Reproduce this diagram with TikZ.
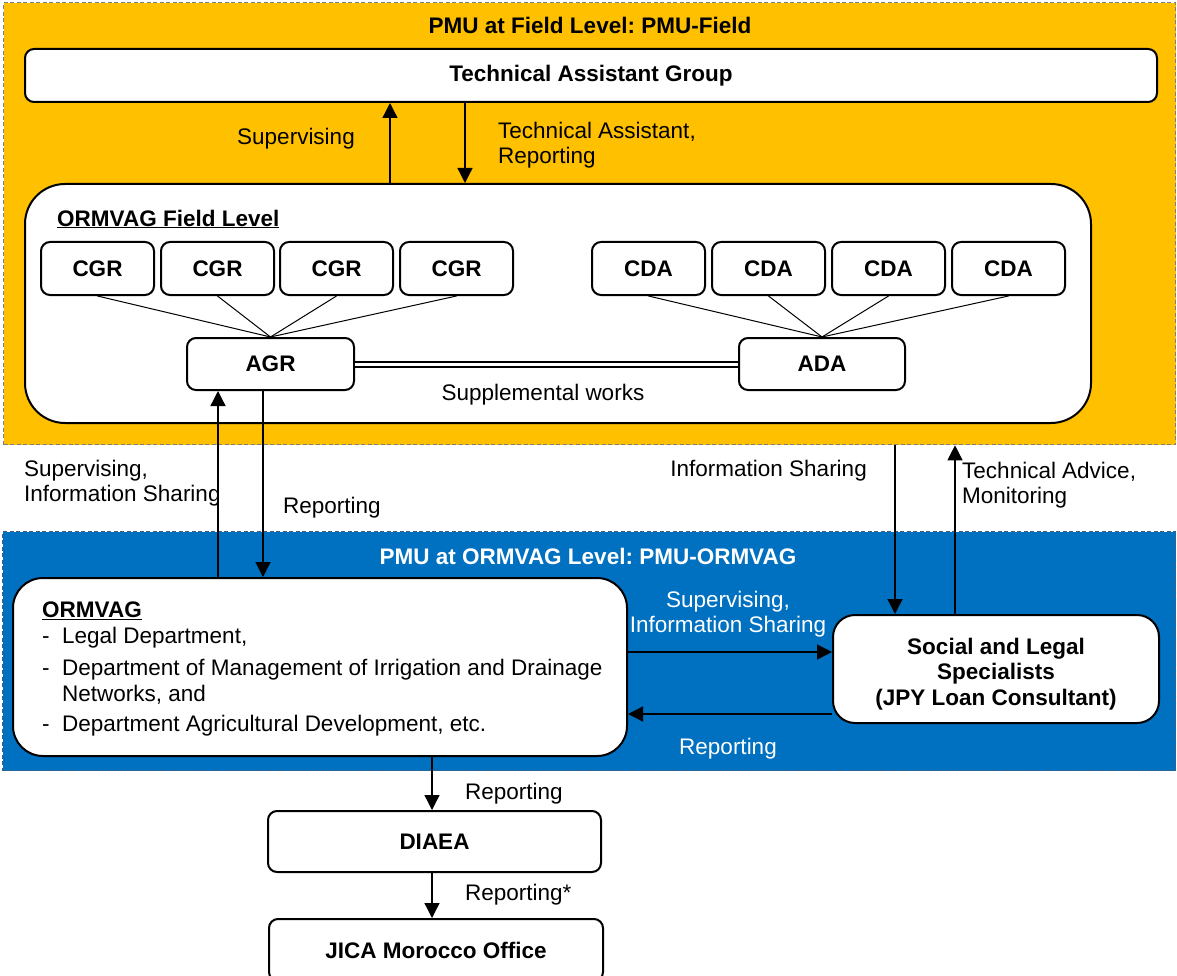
\documentclass[tikz,border=0pt]{standalone}
\usepackage{fontspec}
\setmainfont{Liberation Sans}
\usetikzlibrary{arrows.meta,calc}
\definecolor{pmuyellow}{HTML}{FFC000}
\definecolor{pmublue}{HTML}{0070C0}
\definecolor{panelline}{HTML}{7F7F7F}
\definecolor{panellinedark}{HTML}{3F5F7F}
\frenchspacing

\begin{document}
\begin{tikzpicture}[x=1pt,y=-1pt,
  every node/.style={font=\fontsize{22.5}{25.5}\selectfont},
  panel/.style={draw=panelline, dash pattern=on 4pt off 2.5pt, line width=1.3pt,
    anchor=north west, inner sep=0pt},
  unit/.style={draw=black, line width=2pt, fill=white, anchor=north west,
    inner sep=0pt, rounded corners=#1, font=\fontsize{22.5}{25.5}\selectfont\bfseries},
  unit/.default=9pt,
  link/.style={line width=1pt},
  arr/.style={line width=1.3pt, -{Triangle[length=15pt,width=15pt]}},
  lbl/.style={inner sep=0pt, align=left},
  wlbl/.style={inner sep=0pt, align=center, text=white}
]
\useasboundingbox (0,0) rectangle (1177,976);
\clip (0,0) rectangle (1177,976);

% ---------- PMU-Field panel ----------
\node[panel, fill=pmuyellow, minimum width=1172pt, minimum height=442pt] (field) at (3,2) {};
\node[inner sep=0pt, font=\fontsize{22.5}{25.5}\selectfont\bfseries] (fieldtitle) at (590,25) {PMU at Field Level: PMU-Field};

\node[unit, minimum width=1132pt, minimum height=53pt] (tag) at (24,48) {Technical Assistant Group};

\node[unit=40pt, minimum width=1066pt, minimum height=239pt] (ormfield) at (24,183) {};
\node[lbl, anchor=west, font=\fontsize{22.5}{25.5}\selectfont\bfseries] (ormfieldtitle) at (57,219) {\underline{ORMVAG Field Level}};

% CGR and CDA units
\foreach \i/\x in {1/40, 2/160, 3/279, 4/399}
  \node[unit, minimum width=113pt, minimum height=53pt] (cgr\i) at (\x,241) {CGR};
\foreach \i/\x in {1/591, 2/711, 3/831, 4/951}
  \node[unit, minimum width=113pt, minimum height=53pt] (cda\i) at (\x,241) {CDA};

\node[unit, minimum width=167pt, minimum height=52pt] (agr) at (186,337) {AGR};
\node[unit, minimum width=166pt, minimum height=52pt] (ada) at (738,337) {ADA};

\foreach \i in {1,...,4} {
  \draw[link] (cgr\i.south) -- (agr.north);
  \draw[link] (cda\i.south) -- (ada.north);
}
\draw[line width=2pt, double=white, double distance=3pt] (agr.east) -- (ada.west);
\node[inner sep=0pt] (supp) at (543,395) {Supplemental works};

% x and y positions of the straight connectors
\coordinate (xa) at (390,0);
\coordinate (xb) at (465,0);
\coordinate (xc) at (218,0);
\coordinate (xd) at (263,0);
\coordinate (xe) at (895,0);
\coordinate (xf) at (955,0);
\coordinate (xg) at (432,0);
\coordinate (ya) at (0,652);
\coordinate (yb) at (0,714);

\draw[arr] (ormfield.north -| xa) -- (tag.south -| xa);
\draw[arr] (tag.south -| xb) -- (ormfield.north -| xb);
\node[inner sep=0pt] (lsup) at (296,139) {Supervising};
\node[lbl, anchor=west] (ltar) at (498,145) {Technical Assistant,\\Reporting};

% ---------- PMU-ORMVAG panel ----------
\node[panel, draw=panellinedark, fill=pmublue, minimum width=1173pt, minimum height=239pt] (ormpanel) at (2,531) {};
\node[inner sep=0pt, text=white, font=\fontsize{22.5}{25.5}\selectfont\bfseries] (ormtitle) at (588,556) {PMU at ORMVAG Level: PMU-ORMVAG};

\node[unit=30pt, minimum width=614pt, minimum height=178pt] (orm) at (12,577) {};
\node[lbl, anchor=north west] (ormtext) at (42,602) {\textbf{\underline{ORMVAG}}\\
\makebox[20pt][l]{-}Legal Department,\\[7pt]
\makebox[20pt][l]{-}Department of Management of Irrigation and Drainage\\
\hspace*{20pt}Networks, and\\[5pt]
\makebox[20pt][l]{-}Department Agricultural Development, etc.};

\node[unit=22pt, minimum width=326pt, minimum height=108pt, align=center] (social) at (832,614)
  {\rule{0pt}{26pt}Social and Legal\\Specialists\\(JPY Loan Consultant)};

\draw[arr] (orm.north -| xc) -- (agr.south -| xc);
\draw[arr] (agr.south -| xd) -- (orm.north -| xd);
\node[lbl, anchor=west] (lsupinfo) at (24,483) {Supervising,\\Information Sharing};
\node[lbl, anchor=west] (lrep1) at (283,508) {Reporting};

\draw[arr] (field.south -| xe) -- (social.north -| xe);
\draw[arr] (social.north -| xf) -- (field.south -| xf);
\node[lbl, anchor=east] (linfo) at (867,471) {Information Sharing};
\node[lbl, anchor=west] (ladv) at (962,485) {Technical Advice,\\Monitoring};

\draw[arr] (orm.east |- ya) -- (social.west |- ya);
\draw[arr] (social.west |- yb) -- (orm.east |- yb);
\node[wlbl] (lsupinfo2) at (728,614) {Supervising,\\Information Sharing};
\node[wlbl] (lrep2) at (728,749) {Reporting};

% ---------- reporting line ----------
\node[unit, minimum width=333pt, minimum height=61pt] (diaea) at (267,810) {DIAEA};
\node[unit, minimum width=334pt, minimum height=62pt] (jica) at (268,918) {JICA Morocco Office};

\draw[arr] (orm.south -| xg) -- (diaea.north -| xg);
\draw[arr] (diaea.south -| xg) -- (jica.north -| xg);
\node[lbl, anchor=west] (lrep3) at (465,794) {Reporting};
\node[lbl, anchor=west] (lrep4) at (465,895) {Reporting*};
\end{tikzpicture}
\end{document}
